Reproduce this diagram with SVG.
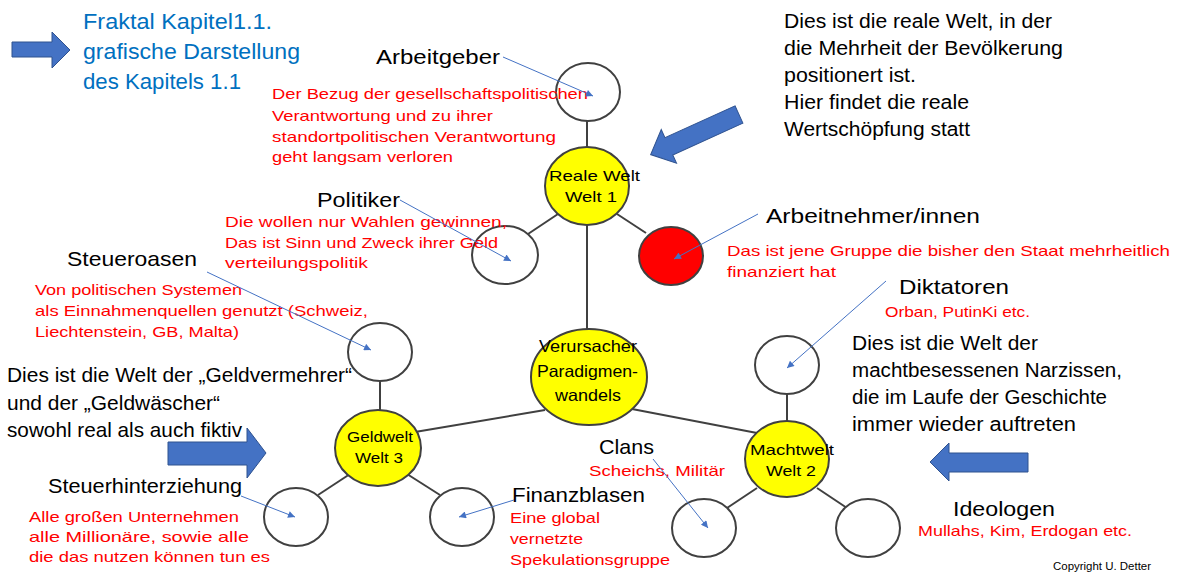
<svg xmlns="http://www.w3.org/2000/svg" width="1179" height="574" viewBox="0 0 1179 574">
<style>
text{font-family:"Liberation Sans",Arial,sans-serif}
.lbl{font-size:21px;fill:#000}
.par{font-size:20px;fill:#000}
.red{font-size:15px;fill:#FF0000}
.in{font-size:15px;fill:#000}
.title{font-size:21.5px;fill:#0070C0}
.c{stroke:#404040;stroke-width:2;fill:#fff}
.y{fill:#FFFF00}
.r{fill:#FF0000}
.ln{stroke:#404040;stroke-width:2;fill:none}
.ptr{stroke:#4472C4;stroke-width:1;fill:none;marker-end:url(#ah)}
.arr{fill:#4472C4;stroke:#2F528F;stroke-width:1}
</style>
<defs>
<marker id="ah" viewBox="0 0 10 10" refX="10" refY="5" markerWidth="10" markerHeight="7" markerUnits="userSpaceOnUse" orient="auto">
<path d="M0,0 L10,5 L0,10 z" fill="#4472C4"/>
</marker>
</defs>
<rect width="1179" height="574" fill="#fff"/>

<g id="connectors">
<line class="ln" x1="587" y1="121" x2="587" y2="147"/>
<line class="ln" x1="558" y1="214" x2="528" y2="234"/>
<line class="ln" x1="617" y1="214" x2="646" y2="233"/>
<line class="ln" x1="587" y1="225" x2="587" y2="329"/>
<line class="ln" x1="545" y1="410" x2="415" y2="432"/>
<line class="ln" x1="632" y1="409" x2="757" y2="433"/>
<line class="ln" x1="787" y1="394" x2="787" y2="422"/>
<line class="ln" x1="757" y1="488" x2="727" y2="508"/>
<line class="ln" x1="817" y1="488" x2="847" y2="508"/>
<line class="ln" x1="380" y1="380" x2="380" y2="411"/>
<line class="ln" x1="350" y1="474" x2="318" y2="495"/>
<line class="ln" x1="407" y1="474" x2="440" y2="495"/>
</g>

<g id="title">
<polygon class="arr" points="12,42 52,42 52,32 70,50 52,68 52,57 12,57"/>
<text class="title" x="83" y="29" textLength="189" lengthAdjust="spacingAndGlyphs">Fraktal Kapitel1.1.</text>
<text class="title" x="83" y="59" textLength="217" lengthAdjust="spacingAndGlyphs">grafische Darstellung</text>
<text class="title" x="83" y="89" textLength="158" lengthAdjust="spacingAndGlyphs">des Kapitels 1.1</text>
</g>

<g id="arbeitgeber">
<ellipse class="c" cx="588" cy="92" rx="32" ry="29"/>
<text class="lbl" x="376" y="64" textLength="124" lengthAdjust="spacingAndGlyphs">Arbeitgeber</text>
<text class="red" x="272" y="99" textLength="316" lengthAdjust="spacingAndGlyphs">Der Bezug der gesellschaftspolitischen</text>
<text class="red" x="272" y="121" textLength="221" lengthAdjust="spacingAndGlyphs">Verantwortung und zu ihrer</text>
<text class="red" x="272" y="142" textLength="284" lengthAdjust="spacingAndGlyphs">standortpolitischen Verantwortung</text>
<text class="red" x="272" y="162" textLength="181" lengthAdjust="spacingAndGlyphs">geht langsam verloren</text>
</g>

<g id="reale-welt">
<ellipse class="c y" cx="587" cy="186" rx="42" ry="39"/>
<text class="in" x="549" y="181" textLength="91" lengthAdjust="spacingAndGlyphs">Reale Welt</text>
<text class="in" x="565" y="202" textLength="52" lengthAdjust="spacingAndGlyphs">Welt 1</text>
</g>

<g id="reale-welt-info">
<polygon class="arr" transform="translate(739,114.5) rotate(155.6)" points="0,-9.5 77,-9.5 77,-18.5 97,0 77,18.5 77,9.5 0,9.5"/>
<text class="par" x="784" y="28" textLength="268" lengthAdjust="spacingAndGlyphs">Dies ist die reale Welt, in der</text>
<text class="par" x="784" y="55" textLength="279" lengthAdjust="spacingAndGlyphs">die Mehrheit der Bevölkerung</text>
<text class="par" x="784" y="82" textLength="132" lengthAdjust="spacingAndGlyphs">positionert ist.</text>
<text class="par" x="784" y="109" textLength="185" lengthAdjust="spacingAndGlyphs">Hier findet die reale</text>
<text class="par" x="784" y="136" textLength="186" lengthAdjust="spacingAndGlyphs">Wertschöpfung statt</text>
</g>

<g id="politiker">
<ellipse class="c" cx="505" cy="255" rx="33" ry="29"/>
<text class="lbl" x="317" y="207" textLength="83" lengthAdjust="spacingAndGlyphs">Politiker</text>
<text class="red" x="225" y="227" textLength="282" lengthAdjust="spacingAndGlyphs">Die wollen nur Wahlen gewinnen,</text>
<text class="red" x="225" y="248" textLength="273" lengthAdjust="spacingAndGlyphs">Das ist Sinn und Zweck ihrer Geld</text>
<text class="red" x="225" y="268" textLength="143" lengthAdjust="spacingAndGlyphs">verteilungspolitik</text>
</g>

<g id="arbeitnehmer">
<ellipse class="c r" cx="671" cy="256" rx="32" ry="29"/>
<text class="lbl" x="766" y="223" textLength="214" lengthAdjust="spacingAndGlyphs">Arbeitnehmer/innen</text>
<text class="red" x="727" y="256" textLength="443" lengthAdjust="spacingAndGlyphs">Das ist jene Gruppe die bisher den Staat mehrheitlich</text>
<text class="red" x="727" y="277" textLength="109" lengthAdjust="spacingAndGlyphs">finanziert hat</text>
</g>

<g id="verursacher">
<ellipse class="c y" cx="589" cy="377" rx="58" ry="48"/>
<text class="in" x="539" y="352" style="font-size:16.5px" textLength="98" lengthAdjust="spacingAndGlyphs">Verursacher</text>
<text class="in" x="537" y="377" style="font-size:16.5px" textLength="101" lengthAdjust="spacingAndGlyphs">Paradigmen-</text>
<text class="in" x="555" y="401" style="font-size:16.5px" textLength="66" lengthAdjust="spacingAndGlyphs">wandels</text>
</g>

<g id="steueroasen">
<ellipse class="c" cx="380" cy="352" rx="32" ry="29"/>
<text class="lbl" x="67" y="266" textLength="130" lengthAdjust="spacingAndGlyphs">Steueroasen</text>
<text class="red" x="35" y="295" textLength="207" lengthAdjust="spacingAndGlyphs">Von politischen Systemen</text>
<text class="red" x="35" y="316" textLength="333" lengthAdjust="spacingAndGlyphs">als Einnahmenquellen genutzt (Schweiz,</text>
<text class="red" x="35" y="337" textLength="204" lengthAdjust="spacingAndGlyphs">Liechtenstein, GB, Malta)</text>
</g>

<g id="geldwelt-info">
<text class="lbl" x="7" y="382" textLength="345" lengthAdjust="spacingAndGlyphs">Dies ist die Welt der „Geldvermehrer“</text>
<text class="lbl" x="7" y="410" textLength="213" lengthAdjust="spacingAndGlyphs">und der „Geldwäscher“</text>
<text class="lbl" x="7" y="437" textLength="235" lengthAdjust="spacingAndGlyphs">sowohl real als auch fiktiv</text>
<polygon class="arr" points="168,442 247,442 247,428 266,453 247,478 247,465 168,465"/>
</g>

<g id="geldwelt">
<ellipse class="c y" cx="378" cy="448" rx="43" ry="38"/>
<text class="in" x="380" y="442" text-anchor="middle" textLength="66" lengthAdjust="spacingAndGlyphs">Geldwelt</text>
<text class="in" x="379" y="463" text-anchor="middle" textLength="48" lengthAdjust="spacingAndGlyphs">Welt 3</text>
</g>

<g id="steuerhinterziehung">
<ellipse class="c" cx="296" cy="517" rx="32" ry="29"/>
<text class="lbl" x="48" y="493" textLength="194" lengthAdjust="spacingAndGlyphs">Steuerhinterziehung</text>
<text class="red" x="29" y="522" textLength="210" lengthAdjust="spacingAndGlyphs">Alle großen Unternehmen</text>
<text class="red" x="29" y="542" textLength="220" lengthAdjust="spacingAndGlyphs">alle Millionäre, sowie alle</text>
<text class="red" x="29" y="562" textLength="241" lengthAdjust="spacingAndGlyphs">die das nutzen können tun es</text>
</g>

<g id="finanzblasen">
<ellipse class="c" cx="462" cy="517" rx="32" ry="29"/>
<text class="lbl" x="512" y="502" textLength="133" lengthAdjust="spacingAndGlyphs">Finanzblasen</text>
<text class="red" x="510" y="523" textLength="90" lengthAdjust="spacingAndGlyphs">Eine global</text>
<text class="red" x="510" y="544" textLength="73" lengthAdjust="spacingAndGlyphs">vernetzte</text>
<text class="red" x="510" y="565" textLength="160" lengthAdjust="spacingAndGlyphs">Spekulationsgruppe</text>
</g>

<g id="diktatoren">
<ellipse class="c" cx="787" cy="365" rx="32" ry="29"/>
<text class="lbl" x="899" y="294" textLength="110" lengthAdjust="spacingAndGlyphs">Diktatoren</text>
<text class="red" x="885" y="317" textLength="145" lengthAdjust="spacingAndGlyphs">Orban, PutinKi etc.</text>
</g>

<g id="machtwelt-info">
<text class="par" x="852" y="350" textLength="186" lengthAdjust="spacingAndGlyphs">Dies ist die Welt der</text>
<text class="par" x="852" y="377" textLength="270" lengthAdjust="spacingAndGlyphs">machtbesessenen Narzissen,</text>
<text class="par" x="852" y="404" textLength="255" lengthAdjust="spacingAndGlyphs">die im Laufe der Geschichte</text>
<text class="par" x="852" y="431" textLength="224" lengthAdjust="spacingAndGlyphs">immer wieder auftreten</text>
<polygon class="arr" points="1028,453 949,453 949,443 930,462 949,481 949,472 1028,472"/>
</g>

<g id="machtwelt">
<ellipse class="c y" cx="787" cy="459" rx="42" ry="38"/>
<text class="in" x="750" y="455" textLength="84" lengthAdjust="spacingAndGlyphs">Machtwelt</text>
<text class="in" x="766" y="476" textLength="50" lengthAdjust="spacingAndGlyphs">Welt 2</text>
</g>

<g id="clans">
<ellipse class="c" cx="704" cy="528" rx="32" ry="29"/>
<text class="lbl" x="599" y="454" textLength="55" lengthAdjust="spacingAndGlyphs">Clans</text>
<text class="red" x="589" y="476" textLength="136" lengthAdjust="spacingAndGlyphs">Scheichs, Militär</text>
</g>

<g id="ideologen">
<ellipse class="c" cx="868" cy="528" rx="32" ry="29"/>
<text class="lbl" x="953" y="516" textLength="102" lengthAdjust="spacingAndGlyphs">Ideologen</text>
<text class="red" x="918" y="536" textLength="214" lengthAdjust="spacingAndGlyphs">Mullahs, Kim, Erdogan etc.</text>
</g>

<g id="copyright">
<text x="1053" y="570" style="font-size:10px;fill:#000" textLength="98" lengthAdjust="spacingAndGlyphs">Copyright U. Detter</text>
</g>

<g id="pointers">
<line class="ptr" x1="503" y1="57" x2="593" y2="96"/>
<line class="ptr" x1="400" y1="200" x2="511" y2="261"/>
<line class="ptr" x1="207" y1="272" x2="371" y2="350"/>
<line class="ptr" x1="758" y1="214" x2="674" y2="259"/>
<line class="ptr" x1="886" y1="281" x2="787" y2="368"/>
<line class="ptr" x1="653" y1="459" x2="708" y2="528"/>
<line class="ptr" x1="241" y1="496" x2="295" y2="517"/>
<line class="ptr" x1="514" y1="500" x2="459" y2="517"/>
</g>
</svg>
